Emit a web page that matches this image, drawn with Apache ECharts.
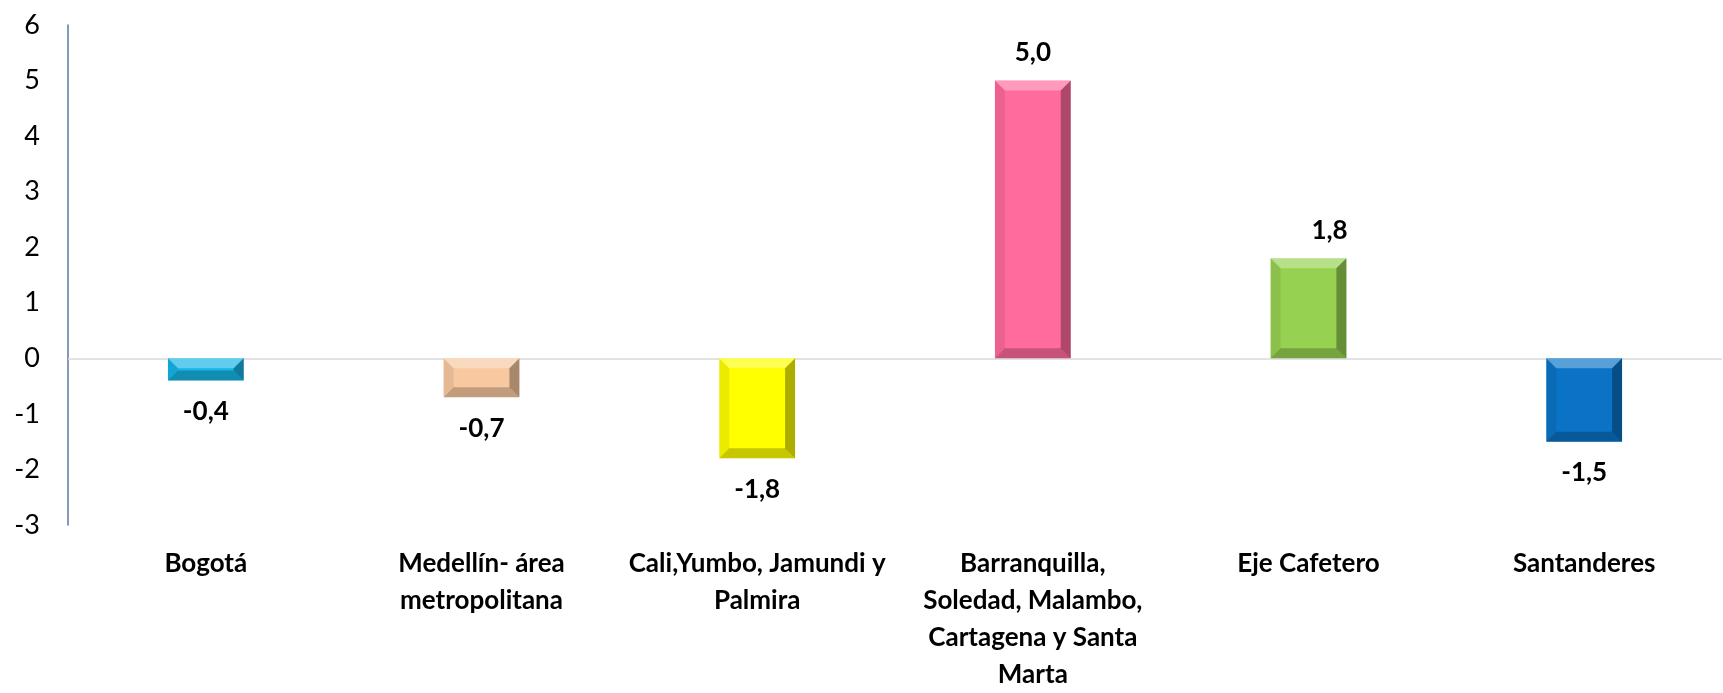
<!DOCTYPE html>
<html><head><meta charset="utf-8">
<script src="https://cdn.jsdelivr.net/npm/echarts@6/dist/echarts.min.js"></script>
<style>html,body{margin:0;padding:0;background:#fff}#c{width:1723px;height:693px}</style>
</head><body><div id="c"></div>
<script>
const categories = ["Bogotá", "Medellín- área\nmetropolitana", "Cali,Yumbo, Jamundi y\nPalmira", "Barranquilla,\nSoledad, Malambo,\nCartagena y Santa\nMarta", "Eje Cafetero", "Santanderes"];
const values = [-0.4, -0.7, -1.8, 5.0, 1.8, -1.5];
const yTicks = [-3, -2, -1, 0, 1, 2, 3, 4, 5, 6];
const barColors = ["#17B4E6", "#F8C9A0", "#FFFF00", "#FF6B9D", "#96D152", "#0A73C6"];

const font = "Lato, 'Open Sans', sans-serif";
const BAR_RATIO = 0.275;
const chart = echarts.init(document.getElementById('c'));
chart.setOption({
  animation: false,
  grid: { left: 68, right: 1, top: 25, bottom: 167 },
  xAxis: {
    type: 'category', data: categories,
    axisLine: { show: false, onZero: false }, axisTick: { show: false },
    axisLabel: { interval: 0, margin: 20, fontFamily: font, fontWeight: 'bold', fontSize: 26, lineHeight: 37, color: '#000' }
  },
  yAxis: {
    type: 'value', min: yTicks[0], max: yTicks[yTicks.length - 1], interval: 1,
    axisLine: { show: true, lineStyle: { color: '#5A77A3', width: 1.5 } },
    axisTick: { show: false }, splitLine: { show: false },
    axisLabel: { margin: 28, fontFamily: font, fontSize: 27, color: '#000' }
  },
  series: [{
    type: 'bar', barWidth: (BAR_RATIO * 100) + '%', z: 2,
    data: values.map((v, i) => ({
      value: v,
      itemStyle: { color: barColors[i] },
      label: {
        show: true, position: v >= 0 ? 'top' : 'bottom',
        distance: v >= 0 ? 15 : 18, offset: i === 4 ? [21, 0] : [0, 0]
      }
    })),
    label: {
      fontFamily: font, fontWeight: 'bold', fontSize: 26, color: '#000',
      formatter: p => p.value.toFixed(1).replace('.', ',')
    },
    markLine: {
      silent: true, symbol: 'none', label: { show: false }, z: 1,
      lineStyle: { color: '#D9D9D9', type: 'solid', width: 1.5 },
      data: [{ yAxis: 0 }]
    }
  }, {
    type: 'custom', z: 3, silent: true,
    data: values.map((v, i) => [i, v]),
    renderItem: function (params, api) {
      const i = api.value(0), v = api.value(1);
      const w = api.size([1, 0])[0] * BAR_RATIO;
      const pTop = api.coord([i, Math.max(v, 0)]);
      const pBot = api.coord([i, Math.min(v, 0)]);
      const x0 = pTop[0] - w / 2, x1 = pTop[0] + w / 2;
      const y0 = pTop[1], y1 = pBot[1];
      const b = Math.min(10, (y1 - y0) / 2, w / 2);
      const poly = (pts, fill) => ({ type: 'polygon', shape: { points: pts }, style: { fill: fill } });
      return {
        type: 'group',
        children: [
          poly([[x0, y0], [x1, y0], [x1 - b, y0 + b], [x0 + b, y0 + b]], 'rgba(255,255,255,0.32)'),
          poly([[x0, y0], [x0 + b, y0 + b], [x0 + b, y1 - b], [x0, y1]], 'rgba(0,0,0,0.08)'),
          poly([[x1, y0], [x1, y1], [x1 - b, y1 - b], [x1 - b, y0 + b]], 'rgba(0,0,0,0.32)'),
          poly([[x0, y1], [x1, y1], [x1 - b, y1 - b], [x0 + b, y1 - b]], 'rgba(0,0,0,0.22)')
        ]
      };
    }
  }]
});
</script></body></html>
